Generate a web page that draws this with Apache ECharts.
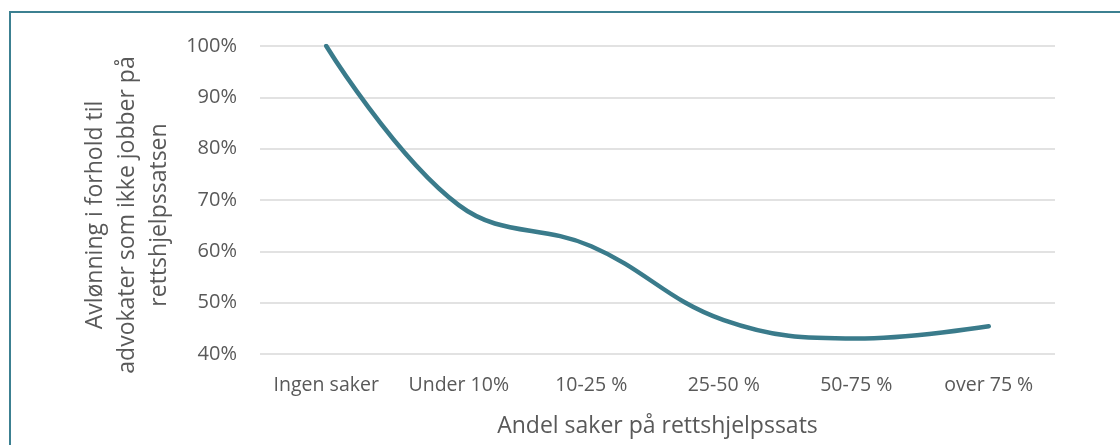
<!DOCTYPE html>
<html>
<head>
<meta charset="utf-8">
<script src="https://cdn.jsdelivr.net/npm/echarts@6/dist/echarts.min.js"></script>
<style>
html,body{margin:0;padding:0;background:#fff;}
#c{width:1120px;height:445px;}
</style>
</head>
<body>
<div id="c"></div>
<script>
var categories = ['Ingen saker', 'Under 10%', '10-25 %', '25-50 %', '50-75 %', 'over 75 %'];
var values = [1.00, 0.69, 0.61, 0.466, 0.43, 0.454];
var yTicks = [0.4, 0.5, 0.6, 0.7, 0.8, 0.9, 1.0];
var xTitle = 'Andel saker på rettshjelpssats';
var yTitle = 'Avlønning i forhold til\nadvokater som ikke jobber på\nrettshjelpssatsen';

var FONT = '"Open Sans", sans-serif';
var chart = echarts.init(document.getElementById('c'), null, {renderer: 'canvas'});
chart.setOption({
  animation: false,
  backgroundColor: '#fff',
  graphic: [{
    type: 'rect',
    shape: {x: 10, y: 12, width: 1300, height: 600},
    style: {fill: 'none', stroke: '#3c8091', lineWidth: 2},
    silent: true
  }],
  grid: {left: 260, right: 65, top: 46, bottom: 91, containLabel: false},
  xAxis: {
    type: 'category',
    data: categories,
    boundaryGap: true,
    axisLine: {show: false},
    axisTick: {show: false},
    axisLabel: {color: '#595959', fontFamily: FONT, fontSize: 19.5, margin: 21, interval: 0, hideOverlap: false},
    name: xTitle,
    nameLocation: 'middle',
    nameGap: 61,
    nameTextStyle: {color: '#595959', fontFamily: FONT, fontSize: 23}
  },
  yAxis: {
    type: 'value',
    min: yTicks[0],
    max: yTicks[yTicks.length - 1],
    interval: 0.1,
    axisLine: {show: false},
    axisTick: {show: false},
    splitLine: {lineStyle: {color: '#d9d9d9', width: 1.5}},
    axisLabel: {
      color: '#595959', fontFamily: FONT, fontSize: 20, margin: 23,
      formatter: function (v) { return Math.round(v * 100) + '%'; }
    },
    name: yTitle,
    nameLocation: 'middle',
    nameGap: 79,
    nameRotate: 90,
    nameTextStyle: {color: '#595959', fontFamily: FONT, fontSize: 23, lineHeight: 32, padding: [0, 30, 0, 0], align: 'center'}
  },
  series: [{
    type: 'line',
    data: values,
    smooth: 0.4,
    symbol: 'none',
    lineStyle: {color: '#3a7b8b', width: 4.5, cap: 'round'}
  }]
});
</script>
</body>
</html>
